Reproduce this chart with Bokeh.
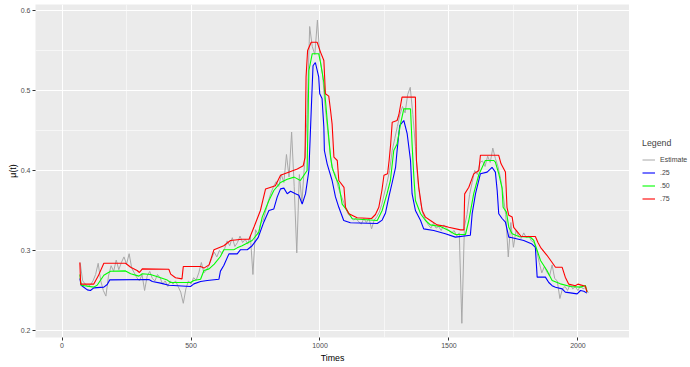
from bokeh.plotting import figure
from bokeh.layouts import row
from bokeh.models import Range1d, FixedTicker, Legend, LegendItem
from bokeh.embed import file_html
from bokeh.resources import INLINE

FONT = "Liberation Sans"

# Raw estimate of mu(t), one value every 10 time units
est_times = list(range(70, 2050, 10))
est_values = [
    0.285, 0.262, 0.258, 0.255, 0.257, 0.262, 0.270, 0.284, 0.262, 0.250,
    0.243, 0.268, 0.281, 0.274, 0.288, 0.276, 0.285, 0.292, 0.283, 0.296,
    0.278, 0.272, 0.266, 0.262, 0.270, 0.250, 0.268, 0.274, 0.265, 0.262,
    0.270, 0.266, 0.258, 0.262, 0.255, 0.262, 0.258, 0.262, 0.255, 0.248,
    0.234, 0.252, 0.262, 0.258, 0.266, 0.263, 0.272, 0.285, 0.272, 0.276,
    0.282, 0.290, 0.298, 0.292, 0.300, 0.296, 0.302, 0.312, 0.306, 0.316,
    0.305, 0.310, 0.318, 0.310, 0.314, 0.308, 0.318, 0.270, 0.326, 0.320,
    0.334, 0.338, 0.350, 0.362, 0.372, 0.380, 0.386, 0.380, 0.395, 0.385,
    0.420, 0.392, 0.448, 0.380, 0.297, 0.395, 0.360, 0.408, 0.470, 0.580,
    0.555, 0.545, 0.588, 0.540, 0.520, 0.480, 0.450, 0.420, 0.400, 0.395,
    0.380, 0.370, 0.362, 0.352, 0.345, 0.342, 0.338, 0.340, 0.336, 0.333,
    0.340, 0.335, 0.340, 0.327, 0.338, 0.342, 0.348, 0.358, 0.372, 0.385,
    0.400, 0.425, 0.440, 0.455, 0.470, 0.480, 0.472, 0.495, 0.504, 0.470,
    0.430, 0.385, 0.360, 0.345, 0.338, 0.332, 0.328, 0.334, 0.328, 0.330,
    0.325, 0.332, 0.328, 0.325, 0.322, 0.325, 0.318, 0.322, 0.209, 0.330,
    0.345, 0.370, 0.385, 0.400, 0.395, 0.410, 0.412, 0.405, 0.418, 0.410,
    0.428, 0.415, 0.405, 0.390, 0.370, 0.345, 0.292, 0.335, 0.304, 0.325,
    0.318, 0.315, 0.322, 0.316, 0.318, 0.312, 0.310, 0.300, 0.285, 0.272,
    0.280, 0.273, 0.268, 0.282, 0.265, 0.262, 0.240, 0.252, 0.255, 0.250,
    0.258, 0.252, 0.255, 0.250, 0.256, 0.252, 0.254, 0.247,
]

# Rolling quantiles of the estimate: (time, value)
q25 = [
    (69, 0.265), (74, 0.2565), (98, 0.2508), (110, 0.250), (123, 0.2533),
    (162, 0.2542), (175, 0.2575), (185, 0.2633), (337, 0.2638), (350, 0.2612),
    (382, 0.2592), (414, 0.2565), (498, 0.255), (511, 0.2583), (537, 0.2612),
    (563, 0.2625), (608, 0.264), (614, 0.2742), (627, 0.2812), (647, 0.2958),
    (679, 0.2958), (692, 0.301), (718, 0.301), (737, 0.306), (760, 0.316),
    (782, 0.3354), (802, 0.35), (821, 0.352), (834, 0.3667), (847, 0.377),
    (860, 0.378), (873, 0.371), (886, 0.374), (905, 0.371), (918, 0.369),
    (931, 0.358), (944, 0.371), (957, 0.40), (966, 0.475), (973, 0.531),
    (982, 0.535), (995, 0.517), (999, 0.496), (1008, 0.49), (1015, 0.454),
    (1017, 0.425), (1028, 0.408), (1047, 0.3875), (1060, 0.367), (1073, 0.354),
    (1092, 0.3375), (1118, 0.3346), (1222, 0.3338), (1241, 0.338), (1254, 0.347),
    (1267, 0.367), (1280, 0.385), (1293, 0.404), (1299, 0.425), (1309, 0.456),
    (1325, 0.4625), (1338, 0.446), (1351, 0.4125), (1357, 0.371), (1370, 0.35),
    (1390, 0.3375), (1402, 0.327), (1441, 0.325), (1486, 0.321), (1525, 0.3167),
    (1583, 0.319), (1590, 0.346), (1603, 0.371), (1622, 0.396), (1648, 0.398),
    (1661, 0.402), (1667, 0.404), (1680, 0.398), (1687, 0.375), (1693, 0.346),
    (1706, 0.340), (1719, 0.3354), (1732, 0.3167), (1745, 0.316), (1790, 0.3125),
    (1822, 0.308), (1835, 0.304), (1842, 0.2667), (1874, 0.2667), (1887, 0.26),
    (1900, 0.256), (1913, 0.254), (1939, 0.252), (1951, 0.248), (1997, 0.2458),
    (2010, 0.25), (2023, 0.249), (2035, 0.2467),
]

q50 = [
    (69, 0.27), (74, 0.2565), (123, 0.2542), (136, 0.2565), (162, 0.269),
    (188, 0.274), (246, 0.2745), (266, 0.271), (298, 0.268), (311, 0.271),
    (343, 0.270), (382, 0.266), (408, 0.263), (421, 0.260), (498, 0.260),
    (511, 0.2625), (537, 0.264), (550, 0.275), (570, 0.277), (590, 0.283),
    (614, 0.2925), (627, 0.301), (666, 0.301), (679, 0.3033), (698, 0.306),
    (737, 0.3125), (763, 0.323), (776, 0.3417), (802, 0.3625), (821, 0.375),
    (847, 0.385), (873, 0.389), (900, 0.3917), (924, 0.3875), (950, 0.40),
    (957, 0.525), (970, 0.546), (995, 0.546), (1002, 0.535), (1015, 0.51),
    (1028, 0.4625), (1041, 0.4167), (1047, 0.404), (1060, 0.3917), (1073, 0.383),
    (1086, 0.358), (1105, 0.35), (1125, 0.3396), (1222, 0.3375), (1241, 0.35),
    (1260, 0.371), (1273, 0.3875), (1286, 0.425), (1299, 0.433), (1312, 0.458),
    (1325, 0.477), (1351, 0.477), (1357, 0.433), (1364, 0.3917), (1370, 0.3625),
    (1390, 0.346), (1409, 0.3375), (1428, 0.332), (1467, 0.330), (1499, 0.325),
    (1525, 0.32), (1564, 0.32), (1577, 0.3375), (1596, 0.371), (1616, 0.395),
    (1629, 0.404), (1641, 0.4125), (1674, 0.4125), (1680, 0.4104), (1693, 0.396),
    (1706, 0.378), (1710, 0.354), (1723, 0.348), (1732, 0.329), (1745, 0.321),
    (1771, 0.3175), (1816, 0.3167), (1829, 0.3125), (1842, 0.30), (1855, 0.2875),
    (1880, 0.275), (1900, 0.2625), (1932, 0.2583), (1971, 0.255), (2010, 0.2542),
    (2029, 0.2563), (2035, 0.248),
]

q75 = [
    (69, 0.285), (72, 0.258), (123, 0.258), (140, 0.268), (162, 0.284),
    (246, 0.284), (266, 0.279), (291, 0.275), (300, 0.2725), (311, 0.277),
    (414, 0.2765), (421, 0.2705), (440, 0.266), (465, 0.2645), (470, 0.280),
    (537, 0.280), (550, 0.278), (570, 0.282), (589, 0.301), (627, 0.306),
    (653, 0.3125), (698, 0.314), (725, 0.314), (745, 0.33), (769, 0.35),
    (789, 0.377), (827, 0.381), (847, 0.394), (912, 0.402), (935, 0.406),
    (942, 0.416), (946, 0.517), (952, 0.55), (966, 0.5604), (989, 0.5604),
    (1002, 0.548), (1015, 0.5375), (1021, 0.496), (1034, 0.493), (1041, 0.475),
    (1047, 0.458), (1054, 0.4167), (1067, 0.4125), (1073, 0.3875), (1093, 0.379),
    (1099, 0.354), (1112, 0.346), (1144, 0.341), (1200, 0.340), (1215, 0.345),
    (1228, 0.354), (1240, 0.375), (1248, 0.394), (1262, 0.396), (1268, 0.4125),
    (1274, 0.433), (1280, 0.4604), (1299, 0.4625), (1306, 0.47), (1318, 0.4917),
    (1370, 0.4917), (1374, 0.4125), (1383, 0.379), (1396, 0.35), (1409, 0.3417),
    (1428, 0.3375), (1454, 0.332), (1486, 0.3304), (1499, 0.329), (1545, 0.3258),
    (1558, 0.3258), (1561, 0.3708), (1577, 0.379), (1596, 0.3958), (1616, 0.400),
    (1622, 0.419), (1693, 0.419), (1702, 0.4083), (1719, 0.398), (1725, 0.354),
    (1732, 0.344), (1745, 0.342), (1751, 0.329), (1771, 0.321), (1780, 0.3175),
    (1835, 0.3175), (1845, 0.310), (1855, 0.304), (1880, 0.294), (1900, 0.285),
    (1913, 0.279), (1939, 0.279), (1951, 0.2667), (1964, 0.258), (1990, 0.256),
    (2000, 0.258), (2029, 0.2554), (2035, 0.248),
]

x_ticks = [0, 500, 1000, 1500, 2000]
x_minor = [-250, 250, 750, 1250, 1750, 2250]
y_ticks = [0.2, 0.3, 0.4, 0.5, 0.6]
y_minor = [0.25, 0.35, 0.45, 0.55]

series_labels = ["Estimate", ".25", ".50", ".75"]
series_colors = ["#A8A8A8", "#0000FF", "#00FF00", "#FF0000"]
series_widths = [1.0, 1.1, 1.1, 1.1]

# Main panel
p = figure(
    width=629, height=367,
    x_range=Range1d(-103, 2200), y_range=Range1d(0.19125, 0.6075),
    output_backend="svg", toolbar_location=None,
    min_border_left=35, min_border_right=0, min_border_top=4, min_border_bottom=30,
    x_axis_label="Times", y_axis_label="\u03bc(t)",
)
p.background_fill_color = "#EBEBEB"
p.border_fill_color = "white"
p.outline_line_color = None

p.xaxis.ticker = FixedTicker(ticks=x_ticks, minor_ticks=x_minor)
p.yaxis.ticker = FixedTicker(ticks=y_ticks, minor_ticks=y_minor)

for ax in (p.xaxis, p.yaxis):
    ax.axis_line_color = None
    ax.major_tick_out = 3
    ax.major_tick_in = 0
    ax.minor_tick_out = 0
    ax.minor_tick_in = 0
    ax.major_tick_line_color = "#333333"
    ax.major_label_text_font = FONT
    ax.major_label_text_font_size = "7px"
    ax.major_label_text_color = "#4D4D4D"
    ax.major_label_standoff = 2
    ax.axis_label_text_font = FONT
    ax.axis_label_text_font_size = "8.8px"
    ax.axis_label_text_font_style = "normal"
    ax.axis_label_text_color = "black"
p.xaxis.axis_label_standoff = 2
p.yaxis.axis_label_standoff = 0

for g in (p.xgrid, p.ygrid):
    g.grid_line_color = "white"
    g.grid_line_width = 1.1
    g.minor_grid_line_color = "white"
    g.minor_grid_line_width = 0.55

series_xy = [
    (est_times, est_values),
    ([t for t, _ in q25], [v for _, v in q25]),
    ([t for t, _ in q50], [v for _, v in q50]),
    ([t for t, _ in q75], [v for _, v in q75]),
]
for (xs, ys), color, lw in zip(series_xy, series_colors, series_widths):
    p.line(xs, ys, line_color=color, line_width=lw)

# Legend column to the right of the panel. Its entries point at one-point
# line renderers (which draw nothing) styled like the series above.
leg_fig = figure(
    width=61, height=367,
    x_range=Range1d(-103, 2200), y_range=Range1d(0.19125, 0.6075),
    output_backend="svg", toolbar_location=None,
    min_border=0, x_axis_type=None, y_axis_type=None,
)
leg_fig.outline_line_color = None
leg_fig.background_fill_color = "white"
leg_fig.border_fill_color = "white"
leg_fig.xgrid.visible = False
leg_fig.ygrid.visible = False

proxies = [
    leg_fig.line(xs[:1], ys[:1], line_color=c, line_width=w)
    for (xs, ys), c, w in zip(series_xy, series_colors, series_widths)
]

legend = Legend(
    items=[LegendItem(label=lab, renderers=[r]) for lab, r in zip(series_labels, proxies)],
    title="Legend",
    location=(13, 133),
    orientation="vertical",
    padding=3, spacing=2, margin=0,
    glyph_width=13, glyph_height=11, label_height=11,
    label_standoff=5, title_standoff=6,
    label_text_font=FONT, label_text_font_size="7px",
    title_text_font=FONT, title_text_font_size="8.8px", title_text_font_style="normal",
    border_line_color=None, background_fill_color="white", background_fill_alpha=1.0,
)
leg_fig.add_layout(legend)

layout = row(p, leg_fig, spacing=0)

open("out.html", "w").write(file_html(layout, INLINE))
